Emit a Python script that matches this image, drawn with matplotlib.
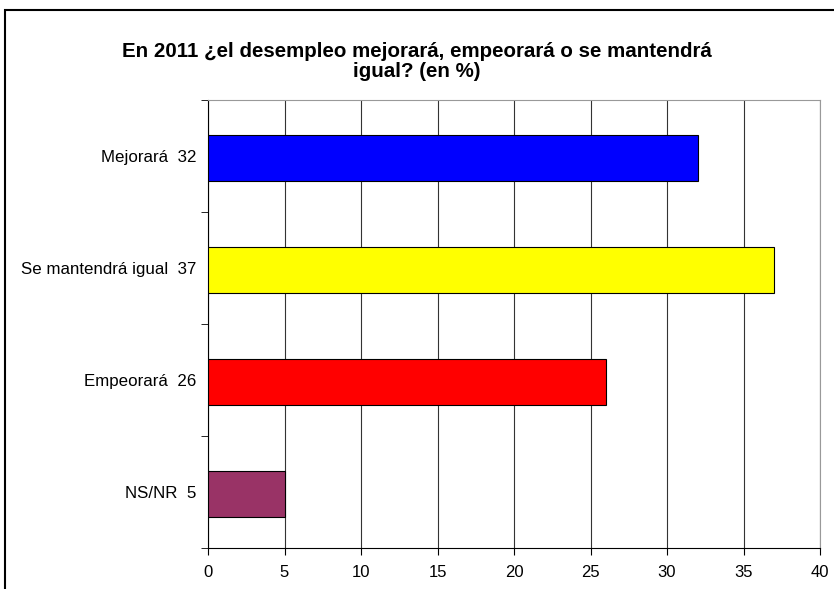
import matplotlib.pyplot as plt
from matplotlib.patches import Rectangle

categorias = ['Mejorará', 'Se mantendrá igual', 'Empeorará', 'NS/NR']
valores = [32, 37, 26, 5]
colores = ['#0000FF', '#FFFF00', '#FF0000', '#993366']
xticks = [0, 5, 10, 15, 20, 25, 30, 35, 40]
titulo = 'En 2011 ¿el desempleo mejorará, empeorará o se mantendrá\nigual? (en %)'

plt.rcParams['font.family'] = ['Liberation Sans', 'DejaVu Sans']

fig = plt.figure(figsize=(8.34, 5.89), dpi=100)
ax = fig.add_axes([208 / 834, 1 - 548 / 589, 612 / 834, 448 / 589])

# borde exterior del grafico
fig.patches.append(Rectangle((5 / 834, -0.1), 1.2, 1 - 10 / 589 + 0.1,
                             transform=fig.transFigure, fill=False,
                             edgecolor='black', linewidth=1.5))

pos = list(range(len(categorias)))
ax.barh([p + 0.02 for p in pos], valores, height=0.41, color=colores,
        edgecolor='black', linewidth=0.8, zorder=3)

etiquetas = ['%s  %d' % (c, v) for c, v in zip(categorias, valores)]
ax.set_yticks(pos)
ax.set_yticklabels(etiquetas, fontsize=12.2)
ax.set_yticks([p - 0.5 for p in pos] + [len(pos) - 0.5], minor=True)
ax.tick_params(axis='y', which='major', length=0, pad=8.5)
ax.tick_params(axis='y', which='minor', length=5, direction='out')
ax.set_ylim(len(pos) - 0.5, -0.5)

ax.set_xlim(0, 40)
ax.set_xticks(xticks)
ax.tick_params(axis='x', labelsize=12, length=5, direction='out', pad=7)
ax.grid(axis='x', color='#333333', linewidth=0.8, zorder=0)

ax.spines['top'].set_color('#999999')
ax.spines['right'].set_color('#999999')
ax.spines['left'].set_linewidth(0.8)
ax.spines['bottom'].set_linewidth(0.8)

fig.text(0.5, 1 - 61.5 / 589, titulo, ha='center', va='center',
         fontsize=14.8, fontweight='bold', linespacing=1.12)

fig.savefig('out.png', dpi=100)
